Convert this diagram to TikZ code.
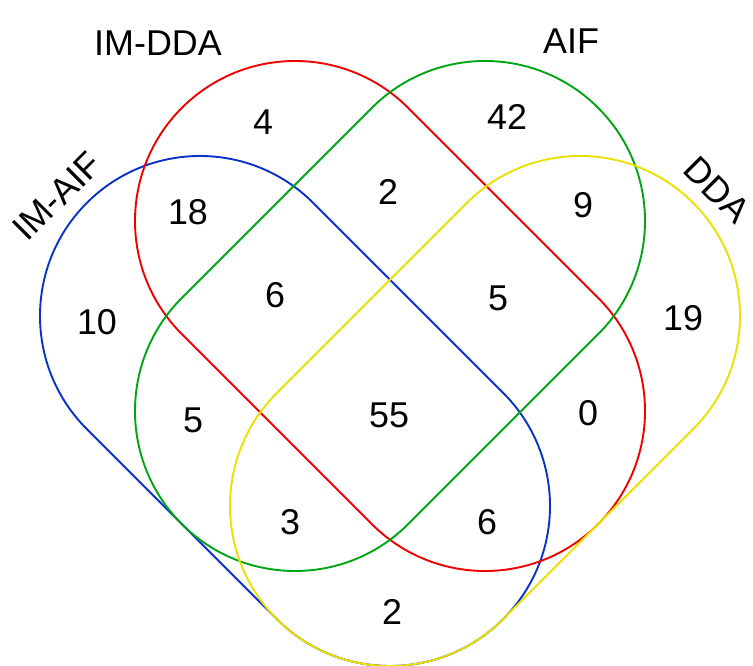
\documentclass[tikz,border=0pt]{standalone}
\usepackage{fontspec}
\setmainfont{Liberation Sans}
\definecolor{setblue}{RGB}{10,50,200}
\definecolor{setred}{RGB}{240,0,0}
\definecolor{setgreen}{RGB}{0,165,20}
\definecolor{setyellow}{RGB}{235,225,0}
\tikzset{
  setline/.style={line width=1.9bp},
  count/.style={font=\fontsize{36}{40}\selectfont, inner sep=0pt},
  setname/.style={font=\fontsize{36}{40}\selectfont, inner sep=0pt},
}
% stadium between two circle centres, radius 160bp, long axis at the given angle
\newcommand{\stadium}[4]{% colour, centre x, centre y, angle
  \begin{scope}[shift={(#2,#3)}, rotate=#4]
    \draw[setline, #1] (0,160) -- (268.7,160)
      arc[start angle=90, end angle=-90, radius=160]
      -- (0,-160)
      arc[start angle=270, end angle=90, radius=160] -- cycle;
  \end{scope}}
\begin{document}
\begin{tikzpicture}[x=1bp, y=1bp]
  \useasboundingbox (0,0) rectangle (753,666);
  \fill[white] (0,0) rectangle (753,666);

  % the four sets
  \stadium{setblue}{200}{350}{-45}
  \stadium{setred}{295}{445}{-45}
  \stadium{setgreen}{485}{445}{-135}
  \stadium{setyellow}{580}{350}{-135}

  % set names
  \node[setname] (nImDda) at (158,623) {IM-DDA};
  \node[setname] (nAif) at (571,625) {AIF};
  \node[setname, rotate=45] (nImAif) at (57,470) {IM-AIF};
  \node[setname, rotate=-45] (nDda) at (717,476) {DDA};

  % region counts
  \node[count] (c4) at (263,544) {4};
  \node[count] (c42) at (507,549) {42};
  \node[count] (c18) at (188,454) {18};
  \node[count] (c2a) at (388,474) {2};
  \node[count] (c9) at (583,461) {9};
  \node[count] (c10) at (97,344) {10};
  \node[count] (c6a) at (275,371) {6};
  \node[count] (c5a) at (498,368) {5};
  \node[count] (c19) at (683,348) {19};
  \node[count] (c5b) at (193,246) {5};
  \node[count] (c55) at (389,251) {55};
  \node[count] (c0) at (588,253) {0};
  \node[count] (c3) at (290,144) {3};
  \node[count] (c6b) at (487,144) {6};
  \node[count] (c2b) at (392,54) {2};
\end{tikzpicture}
\end{document}
